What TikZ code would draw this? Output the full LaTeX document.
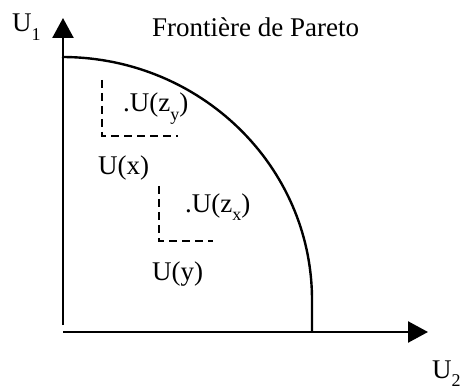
\documentclass[tikz,border=0pt]{standalone}
\usepackage{fontspec}
\setmainfont{Liberation Serif}
\usetikzlibrary{arrows.meta}
\newcommand\mysub[1]{\raisebox{-0.3em}{\fontsize{18}{18}\selectfont #1}}
\begin{document}
\begin{tikzpicture}[x=1pt,y=-1pt,
  axis/.style={line width=2.4pt,-{Triangle[length=20pt,width=21pt]}},
  frontier/.style={line width=2.4pt},
  dashbox/.style={line width=1.8pt,dash pattern=on 8pt off 5pt},
  lbl/.style={anchor=base west,inner sep=0pt,font=\fontsize{27}{32}\selectfont}]
\useasboundingbox (0,0) rectangle (471,390);
% axes
\coordinate (ybot) at (63,325);
\coordinate (ytip) at (63,18);
\coordinate (xleft) at (63,332);
\coordinate (xtip) at (428,332);
\draw[axis] (ybot) -- (ytip);
\draw[axis] (xleft) -- (xtip);
% Pareto frontier
\coordinate (fstart) at (62,57);
\coordinate (fend) at (312,332);
\draw[frontier] (fstart) arc[start angle=90,end angle=0,x radius=250pt,y radius=243pt] -- (fend);
% dashed corners
\coordinate (a1) at (102,80);
\coordinate (a2) at (102,136);
\coordinate (a3) at (178,136);
\draw[dashbox] (a1) -- (a2) -- (a3);
\coordinate (b1) at (159,186);
\coordinate (b2) at (159,241);
\coordinate (b3) at (213,241);
\draw[dashbox] (b1) -- (b2) -- (b3);
% labels
\node[lbl] (u1) at (12,32) {U\mysub{1}};
\node[lbl] (title) at (152,37) {Frontière de Pareto};
\node[lbl] (uzy) at (123,112) {.U(z\mysub{y})};
\node[lbl] (ux) at (98,175) {U(x)};
\node[lbl] (uzx) at (185,212) {.U(z\mysub{x})};
\node[lbl] (uy) at (152,280) {U(y)};
\node[lbl] (u2) at (432,378) {U\mysub{2}};
\end{tikzpicture}
\end{document}
